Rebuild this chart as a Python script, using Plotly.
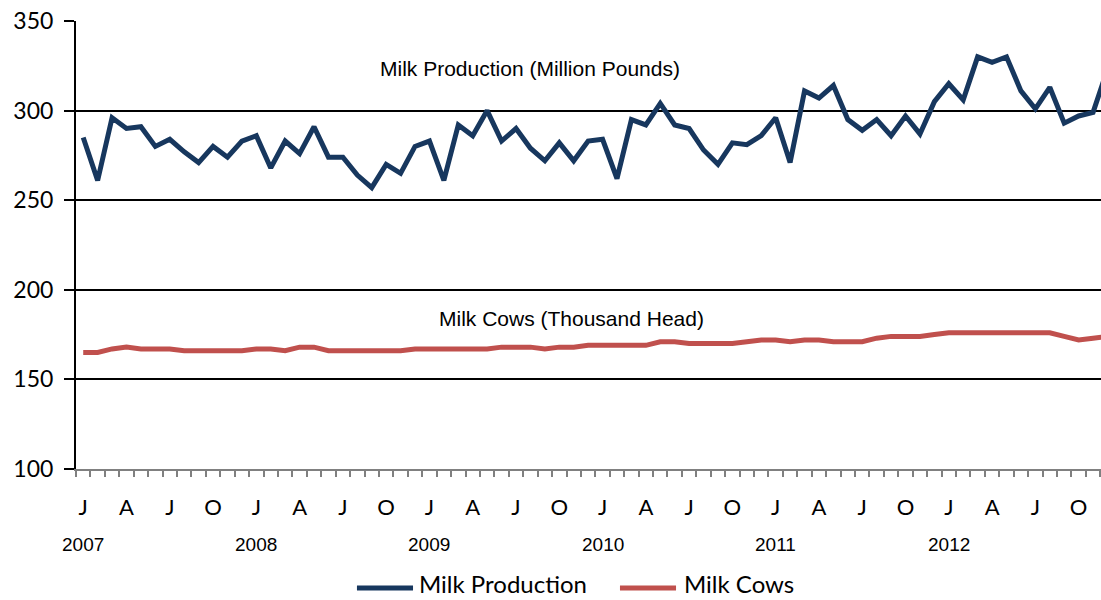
import plotly.graph_objects as go

# Monthly data, Jan 2007 - Dec 2012
months = [f"{y}-{m:02d}" for y in range(2007, 2013) for m in range(1, 13)]

milk_production = [
    285, 261, 296, 290, 291, 280, 284, 277, 271, 280, 274, 283,
    286, 268, 283, 276, 291, 274, 274, 264, 257, 270, 265, 280,
    283, 261, 292, 286, 300, 283, 290, 279, 272, 282, 272, 283,
    284, 262, 295, 292, 304, 292, 290, 278, 270, 282, 281, 286,
    296, 271, 311, 307, 314, 295, 289, 295, 286, 297, 287, 305,
    315, 306, 330, 327, 330, 311, 301, 313, 293, 297, 299, 323,
]

milk_cows = [
    165, 165, 167, 168, 167, 167, 167, 166, 166, 166, 166, 166,
    167, 167, 166, 168, 168, 166, 166, 166, 166, 166, 166, 167,
    167, 167, 167, 167, 167, 168, 168, 168, 167, 168, 168, 169,
    169, 169, 169, 169, 171, 171, 170, 170, 170, 170, 171, 172,
    172, 171, 172, 172, 171, 171, 171, 173, 174, 174, 174, 175,
    176, 176, 176, 176, 176, 176, 176, 176, 174, 172, 173, 174,
]

series_names = ["Milk Production", "Milk Cows"]
month_letters = ["J", "A", "J", "O"]
year_labels = ["2007", "2008", "2009", "2010", "2011", "2012"]

idx = list(range(len(months)))
tick_positions = idx[::3]
tick_text = [month_letters[(i // 3) % 4] for i in tick_positions]
minor_positions = [i - 0.5 for i in idx] + [idx[-1] + 0.5]

NAVY = "#17375E"
RED = "#C0504D"
colors = [NAVY, RED]

fig = go.Figure()
for name, vals, col in zip(series_names, [milk_production, milk_cows], colors):
    fig.add_trace(go.Scatter(x=idx, y=vals, mode="lines", name=name,
                             line=dict(color=col, width=5), customdata=months,
                             hovertemplate="%{customdata}: %{y}<extra>" + name + "</extra>"))

x0, x1 = -0.5, 70.55

fig.update_layout(
    width=1101, height=600,
    margin=dict(l=76, r=0, t=21, b=131, autoexpand=False),
    paper_bgcolor="white", plot_bgcolor="white",
    font=dict(family="Lato, Arial, sans-serif", color="black"),
    showlegend=False,
    xaxis=dict(
        range=[x0, x1], showgrid=False, zeroline=False, automargin=False,
        showline=True, linecolor="#808080", linewidth=2,
        tickmode="array", tickvals=tick_positions, ticktext=tick_text,
        ticks="", ticklabelstandoff=18,
        tickfont=dict(family="Lato", size=22, color="black"),
        minor=dict(tickmode="array", tickvals=minor_positions, ticks="outside",
                   ticklen=6, tickwidth=1.5, tickcolor="#808080", showgrid=False),
    ),
    yaxis=dict(
        range=[100, 350], dtick=50, tick0=100, automargin=False,
        showgrid=True, gridcolor="black", gridwidth=2,
        zeroline=False, showline=True, linecolor="black", linewidth=2,
        ticks="outside", ticklen=10, tickwidth=2, tickcolor="black",
        tickfont=dict(family="Lato", size=23, color="black"),
        ticklabelstandoff=6,
    ),
)

# year labels under each January
for k, yl in enumerate(year_labels):
    fig.add_annotation(x=k * 12, y=-0.1696, xref="x", yref="paper", text=yl,
                       showarrow=False, xanchor="center", yanchor="middle",
                       font=dict(family="Liberation Sans, Arial", size=19, color="black"))

fig.add_annotation(x=0.443, y=0.893, xref="paper", yref="paper",
                   text="Milk Production (Million Pounds)", showarrow=False,
                   xanchor="center", yanchor="middle",
                   font=dict(family="Liberation Sans, Arial", size=21, color="black"))
fig.add_annotation(x=0.483, y=0.335, xref="paper", yref="paper",
                   text="Milk Cows (Thousand Head)", showarrow=False,
                   xanchor="center", yanchor="middle",
                   font=dict(family="Liberation Sans, Arial", size=21, color="black"))

# legend drawn below the axis (line sample + label for each series)
legend_y = -0.2656
legend_text_bottom = -0.2902
legend_items = [(0.2741, 0.3288, 0.3337), (0.5307, 0.5854, 0.5922)]
for name, col, (lx0, lx1, tx) in zip(series_names, colors, legend_items):
    fig.add_shape(type="line", xref="paper", yref="paper", x0=lx0, x1=lx1,
                  y0=legend_y, y1=legend_y, line=dict(color=col, width=5))
    fig.add_annotation(x=tx, y=legend_text_bottom, xref="paper", yref="paper", text=name,
                       showarrow=False, xanchor="left", yanchor="bottom", borderpad=0,
                       font=dict(family="Lato", size=24, color="black"))

fig.write_html("out.html",
               config={"displayModeBar": False},
               post_script="document.body.style.margin='0';document.body.style.overflow='hidden';")
